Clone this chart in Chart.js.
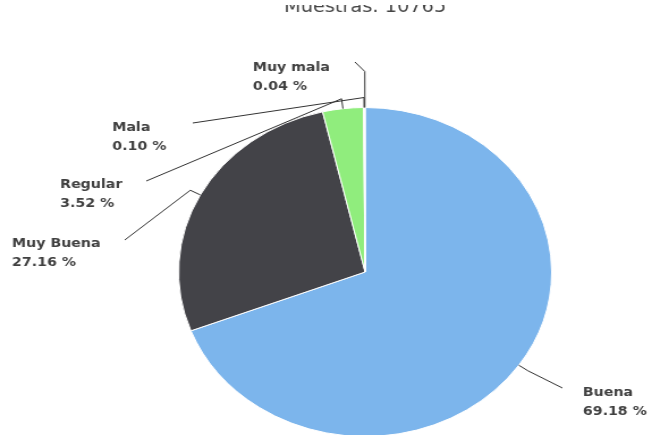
<!DOCTYPE html>
<html>
<head>
<meta charset="utf-8">
<script src="https://cdn.jsdelivr.net/npm/chart.js@4/dist/chart.umd.min.js"></script>
<style>
  html, body { margin: 0; padding: 0; background: #fff; }
  #wrap { width: 652px; height: 435px; overflow: hidden; position: relative; }
  #inner { width: 575px; height: 460px; transform: scaleX(1.13391); transform-origin: 0 0; }
</style>
</head>
<body>
<div id="wrap"><div id="inner"><canvas id="c" width="575" height="460"></canvas></div></div>
<script>
const titleText = 'Muestras: 10765';
const categories = ['Buena', 'Muy Buena', 'Regular', 'Mala', 'Muy mala'];
const percentages = [69.18, 27.16, 3.52, 0.10, 0.04];
const sliceColors = ['#7cb5ec', '#434348', '#90ed7d', '#f7a35c', '#8085e9'];

// label layout (canvas units, before horizontal stretch)
const labelLayout = [
  { ax: 496, ay: 388, tx: 514, ty: 393, d: 10 },
  { ax: 110, ay: 240, tx: 10.6, ty: 244, d: 10 },
  { ax: 129, ay: 181, tx: 53, ty: 185, d: 10 },
  { ax: 170, ay: 123, tx: 99, ty: 128, d: 10 },
  { ax: 313, ay: 62, tx: 223, ty: 68, d: 36 }
];

const labelPlugin = {
  id: 'pieLabels',
  afterDatasetsDraw(chart) {
    const ctx = chart.ctx;
    const meta = chart.getDatasetMeta(0);
    ctx.save();
    // title (its top is cut off by the frame)
    ctx.save();
    ctx.beginPath();
    ctx.rect(0, 5, chart.width, 20);
    ctx.clip();
    ctx.fillStyle = '#444444';
    ctx.font = '17px "DejaVu Sans", sans-serif';
    ctx.textAlign = 'center';
    ctx.textBaseline = 'alphabetic';
    const cx = (chart.chartArea.left + chart.chartArea.right) / 2;
    ctx.fillText(titleText, cx, 12);
    ctx.restore();

    meta.data.forEach((arc, i) => {
      const p = arc.getProps(['x', 'y', 'startAngle', 'endAngle', 'outerRadius'], true);
      const mid = (p.startAngle + p.endAngle) / 2;
      const L = labelLayout[i];
      const px = p.x + Math.cos(mid) * p.outerRadius;
      const py = p.y + Math.sin(mid) * p.outerRadius;
      const bx = p.x + Math.cos(mid) * (p.outerRadius + L.d);
      const by = p.y + Math.sin(mid) * (p.outerRadius + L.d);
      ctx.beginPath();
      ctx.strokeStyle = '#333333';
      ctx.lineWidth = 1;
      ctx.moveTo(L.ax, L.ay);
      ctx.lineTo(bx, by);
      ctx.lineTo(px, py);
      ctx.stroke();

      ctx.fillStyle = '#404040';
      ctx.font = 'bold 12.5px "DejaVu Sans", sans-serif';
      ctx.textAlign = 'left';
      ctx.textBaseline = 'middle';
      ctx.fillText(categories[i], L.tx, L.ty);
      ctx.fillText(percentages[i].toFixed(2) + ' %', L.tx, L.ty + 19);
    });
    ctx.restore();
  }
};

new Chart(document.getElementById('c'), {
  type: 'pie',
  data: {
    labels: categories,
    datasets: [{
      data: percentages,
      backgroundColor: sliceColors,
      borderColor: '#ffffff',
      borderWidth: 1
    }]
  },
  options: {
    responsive: false,
    animation: false,
    devicePixelRatio: 1,
    layout: { padding: { top: 107, left: 157, right: 88, bottom: 23 } },
    plugins: {
      legend: { display: false },
      tooltip: { enabled: false },
      title: { display: false }
    }
  },
  plugins: [labelPlugin]
});
</script>
</body>
</html>
